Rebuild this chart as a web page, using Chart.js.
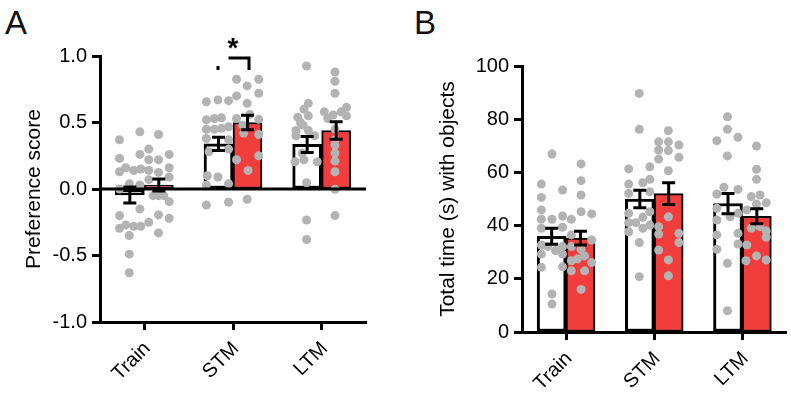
<!DOCTYPE html>
<html><head><meta charset="utf-8">
<script src="https://cdn.jsdelivr.net/npm/chart.js@4"></script>
<style>
html,body{margin:0;padding:0;background:#fff;}
body{width:791px;height:400px;position:relative;overflow:hidden;font-family:"Liberation Sans",Arial,sans-serif;}
.plabel{position:absolute;font-size:33px;line-height:33px;color:#111;}
canvas{position:absolute;top:0;}
</style></head><body>
<div class="plabel" style="left:5px;top:6px">A</div>
<div class="plabel" style="left:414px;top:6px">B</div>
<canvas id="cA" width="395" height="400" style="left:0"></canvas>
<canvas id="cB" width="391" height="400" style="left:400px"></canvas>
<script>
// ---------- DATA ----------
const categories = ['Train', 'STM', 'LTM'];

// Panel A: preference score (bar = mean, error = SEM)
const prefWhiteMean = [-0.045, 0.34, 0.335];
const prefWhiteSem  = [0.06, 0.05, 0.06];
const prefRedMean   = [0.03, 0.50, 0.44];
const prefRedSem    = [0.045, 0.055, 0.065];
const prefTicks     = [-1.0, -0.5, 0.0, 0.5, 1.0];

// individual animals: [jitter within category (fraction of category width), value]
const prefWhiteDots = [
  [[-0.28,0.37],[-0.05,0.43],[-0.28,0.23],[-0.05,0.26],[-0.28,0.13],[-0.21,0.16],[-0.12,0.14],[-0.04,0.15],[-0.17,0.04],[-0.05,0.03],[-0.28,0.0],[-0.05,-0.15],[-0.28,-0.20],[-0.28,-0.295],[-0.21,-0.27],[-0.12,-0.28],[-0.04,-0.28],[-0.17,-0.35],[-0.17,-0.49],[-0.17,-0.63]],
  [[-0.30,0.656],[-0.17,0.67],[-0.05,0.664],[-0.30,0.52],[-0.21,0.53],[-0.13,0.536],[-0.30,0.449],[-0.21,0.45],[-0.13,0.456],[-0.05,0.468],[-0.30,0.38],[-0.05,0.37],[-0.05,0.30],[-0.27,0.28],[-0.29,0.10],[-0.17,0.09],[-0.30,0.03],[-0.05,0.04],[-0.30,-0.12],[-0.05,-0.10]],
  [[-0.17,0.925],[-0.15,0.644],[-0.20,0.60],[-0.27,0.54],[-0.15,0.55],[-0.24,0.50],[-0.21,0.48],[-0.29,0.44],[-0.15,0.44],[-0.29,0.40],[-0.08,0.40],[-0.22,0.27],[-0.30,0.205],[-0.20,0.22],[-0.05,0.205],[-0.17,0.047],[-0.17,-0.233],[-0.17,-0.38]]
];
const prefRedDots = [
  [[0.16,0.41],[0.05,0.30],[0.28,0.26],[0.05,0.22],[0.16,0.22],[0.05,0.14],[0.16,0.125],[0.28,0.16],[0.28,0.09],[0.05,0.07],[0.10,-0.05],[0.16,-0.05],[0.22,-0.05],[0.28,-0.095],[0.16,-0.195],[0.28,-0.22],[0.05,-0.25],[0.16,-0.33]],
  [[0.04,0.825],[0.29,0.825],[0.16,0.775],[0.29,0.72],[0.04,0.70],[0.16,0.644],[0.19,0.56],[0.04,0.53],[0.29,0.524],[0.11,0.48],[0.12,0.42],[0.29,0.41],[0.29,0.25],[0.04,0.22],[0.17,0.14],[0.16,-0.077]],
  [[0.15,0.88],[0.15,0.81],[0.15,0.72],[0.28,0.614],[0.03,0.58],[0.22,0.58],[0.13,0.556],[0.28,0.55],[0.07,0.53],[0.15,0.45],[0.15,0.37],[0.15,0.33],[0.15,0.27],[0.15,0.21],[0.15,0.13],[0.15,-0.002],[0.15,-0.20]]
];

// Panel B: total time (s) with objects
const timeWhiteMean = [36.0, 50.0, 48.3];
const timeWhiteSem  = [3.0, 3.3, 3.8];
const timeRedMean   = [35.3, 52.0, 43.5];
const timeRedSem    = [2.6, 4.1, 2.8];
const timeTicks     = [0, 20, 40, 60, 80, 100];

const timeWhiteDots = [
  [[-0.16,66.9],[-0.28,55.6],[-0.04,53.4],[-0.28,50.6],[-0.28,45.9],[-0.28,42.4],[-0.16,42.4],[-0.04,43.6],[-0.04,39.4],[-0.28,39.0],[-0.28,32.7],[-0.21,32.1],[-0.12,30.6],[-0.04,32.1],[-0.28,29.3],[-0.04,29.3],[-0.28,24.3],[-0.04,24.5],[-0.16,14.3],[-0.16,10.5]],
  [[-0.17,89.7],[-0.17,76.2],[-0.05,62.1],[-0.29,61.3],[-0.05,57.4],[-0.13,56.1],[-0.29,55.6],[-0.05,52.7],[-0.29,52.1],[-0.05,45.2],[-0.29,44.6],[-0.13,43.1],[-0.29,41.1],[-0.21,41.1],[-0.05,40.2],[-0.13,39.0],[-0.29,37.7],[-0.17,33.6],[-0.17,20.8]],
  [[-0.17,80.9],[-0.17,76.2],[-0.05,73.2],[-0.29,71.9],[-0.17,66.2],[-0.21,54.4],[-0.05,53.6],[-0.29,51.9],[-0.29,46.5],[-0.05,44.6],[-0.14,43.3],[-0.29,42.1],[-0.05,37.1],[-0.29,36.5],[-0.05,33.1],[-0.29,31.1],[-0.17,25.8],[-0.17,8.0]]
];
const timeRedDots = [
  [[0.17,63.2],[0.17,56.9],[0.17,51.5],[0.17,45.2],[0.29,44.4],[0.06,42.4],[0.06,36.5],[0.29,34.6],[0.06,32.1],[0.17,31.0],[0.21,28.6],[0.13,27.5],[0.06,26.8],[0.29,26.1],[0.06,23.0],[0.21,23.0],[0.17,16.0]],
  [[0.16,75.7],[0.05,71.5],[0.16,71.5],[0.28,70.3],[0.05,68.4],[0.16,68.2],[0.28,65.7],[0.05,65.0],[0.16,60.6],[0.16,43.3],[0.05,39.6],[0.28,37.1],[0.05,36.8],[0.28,33.6],[0.05,30.8],[0.16,27.1],[0.16,21.1]],
  [[0.16,69.9],[0.16,61.2],[0.16,57.4],[0.20,51.5],[0.10,50.9],[0.27,48.6],[0.16,48.1],[0.05,45.9],[0.20,39.6],[0.10,39.0],[0.27,38.0],[0.27,35.6],[0.05,32.7],[0.16,28.6],[0.27,27.1],[0.04,26.8]]
];

// ---------- STYLE / BUILD ----------
const RED = '#f23d3d';
const DOT = '#b3b3b3';
const BAR_HALF = 0.1635;   // half bar width, in category widths
const BAR_PX = 29;
Chart.defaults.font.family = "'Liberation Sans', Arial, sans-serif";
Chart.defaults.color = '#000';

function toPoints(groups) {
  const out = [];
  groups.forEach((g, i) => g.forEach(p => out.push({ x: i + p[0], y: p[1] })));
  return out;
}
function toBars(means, shift) {
  return means.map((m, i) => ({ x: i + shift, y: m }));
}

const overlayPlugin = {
  id: 'overlay',
  afterDatasetsDraw(chart, args, opts) {
    const ctx = chart.ctx, ys = chart.scales.y, ca = chart.chartArea;
    ctx.save();
    ctx.strokeStyle = '#000';
    ctx.fillStyle = '#000';
    ctx.lineWidth = 3;
    if (opts.zeroLine) {
      const y0 = ys.getPixelForValue(0);
      ctx.beginPath(); ctx.moveTo(ca.left, y0); ctx.lineTo(ca.right, y0); ctx.stroke();
    }
    // error bars (SEM)
    chart.data.datasets.forEach((ds, di) => {
      if (!ds.sem) return;
      const meta = chart.getDatasetMeta(di);
      meta.data.forEach((el, j) => {
        const m = ds.mean[j], s = ds.sem[j];
        const yt = ys.getPixelForValue(m + s), yb = ys.getPixelForValue(m - s);
        const x = el.x, hw = 6.5;
        ctx.beginPath();
        ctx.moveTo(x, yt); ctx.lineTo(x, yb);
        ctx.moveTo(x - hw, yt); ctx.lineTo(x + hw, yt);
        ctx.moveTo(x - hw, yb); ctx.lineTo(x + hw, yb);
        ctx.stroke();
      });
    });
    // significance bracket
    if (opts.sig) {
      const i = opts.sig.index;
      const xw = chart.getDatasetMeta(0).data[i].x;
      const xr = chart.getDatasetMeta(1).data[i].x;
      const yT = ca.top + 2, yB = ca.top + 14;
      ctx.lineWidth = 3;
      ctx.beginPath();
      ctx.moveTo(xw + 10, yT); ctx.lineTo(xr + 1.5, yT); ctx.lineTo(xr + 1.5, yB);
      ctx.stroke();
      ctx.fillRect(xw - 2, yB - 4, 3, 4);
      ctx.font = "bold 28px 'Liberation Sans', Arial, sans-serif";
      ctx.textAlign = 'center';
      ctx.textBaseline = 'alphabetic';
      ctx.fillText(opts.sig.label, (xw + xr) / 2, ca.top + 1);
    }
    ctx.restore();
  }
};

function makeChart(id, cfg) {
  const axisGrid = { display: true, drawOnChartArea: false, drawTicks: true, tickLength: 8, tickWidth: 3, tickColor: '#000', offset: false };
  const border = { display: true, width: 3, color: '#000' };
  const barCommon = { type: 'bar', borderColor: '#000', borderSkipped: false, grouped: false, barThickness: BAR_PX, xAxisID: 'xs', yAxisID: 'y', order: 2 };
  const dotCommon = { type: 'scatter', xAxisID: 'xs', yAxisID: 'y', pointRadius: 4.5, pointBackgroundColor: DOT, pointBorderWidth: 0, order: 1 };
  return new Chart(document.getElementById(id), {
    type: 'bar',
    data: {
      labels: categories,
      datasets: [
        Object.assign({}, barCommon, { data: toBars(cfg.whiteMean, -BAR_HALF), mean: cfg.whiteMean, sem: cfg.whiteSem, backgroundColor: '#fff', borderWidth: 3 }),
        Object.assign({}, barCommon, { data: toBars(cfg.redMean, BAR_HALF), mean: cfg.redMean, sem: cfg.redSem, backgroundColor: RED, borderWidth: 2 }),
        Object.assign({}, dotCommon, { data: toPoints(cfg.whiteDots) }),
        Object.assign({}, dotCommon, { data: toPoints(cfg.redDots) })
      ]
    },
    options: {
      responsive: false,
      animation: false,
      events: [],
      layout: { padding: cfg.padding },
      plugins: { legend: { display: false }, tooltip: { enabled: false }, overlay: cfg.overlay },
      scales: {
        x: {
          type: 'category', position: 'bottom', offset: true,
          grid: axisGrid, border: border,
          ticks: { font: { size: 20 }, color: '#000', minRotation: 45, maxRotation: 45, autoSkip: false, padding: 7, labelOffset: 3 },
          afterFit(s) { s.height = cfg.xHeight; }
        },
        xs: { type: 'linear', display: false, offset: false, min: -0.5, max: 2.5, grace: 0 },
        y: {
          type: 'linear', position: 'left', min: cfg.ticks[0], max: cfg.ticks[cfg.ticks.length - 1],
          grid: axisGrid, border: border,
          afterBuildTicks(s) { s.ticks = cfg.ticks.map(v => ({ value: v })); },
          ticks: { font: { size: 20 }, color: '#000', padding: 5, callback: cfg.fmt },
          title: { display: true, text: cfg.title, font: { size: 21 }, color: '#000', padding: { top: cfg.titlePad, bottom: 0 } },
          afterFit(s) { s.width = cfg.yWidth; }
        }
      }
    },
    plugins: [overlayPlugin]
  });
}

makeChart('cA', {
  whiteMean: prefWhiteMean, whiteSem: prefWhiteSem, redMean: prefRedMean, redSem: prefRedSem,
  whiteDots: prefWhiteDots, redDots: prefRedDots, ticks: prefTicks,
  fmt: v => Number(v).toFixed(1), title: 'Preference score', titlePad: 22,
  yWidth: 100, xHeight: 78, padding: { left: 0, right: 29, top: 56, bottom: 0 },
  overlay: { zeroLine: true, sig: { index: 1, label: '*' } }
});
makeChart('cB', {
  whiteMean: timeWhiteMean, whiteSem: timeWhiteSem, redMean: timeRedMean, redSem: timeRedSem,
  whiteDots: timeWhiteDots, redDots: timeRedDots, ticks: timeTicks,
  fmt: v => String(v), title: 'Total time (s) with objects', titlePad: 36,
  yWidth: 122, xHeight: 68, padding: { left: 0, right: 3, top: 66, bottom: 0 },
  overlay: { zeroLine: false }
});
</script>
</body></html>
